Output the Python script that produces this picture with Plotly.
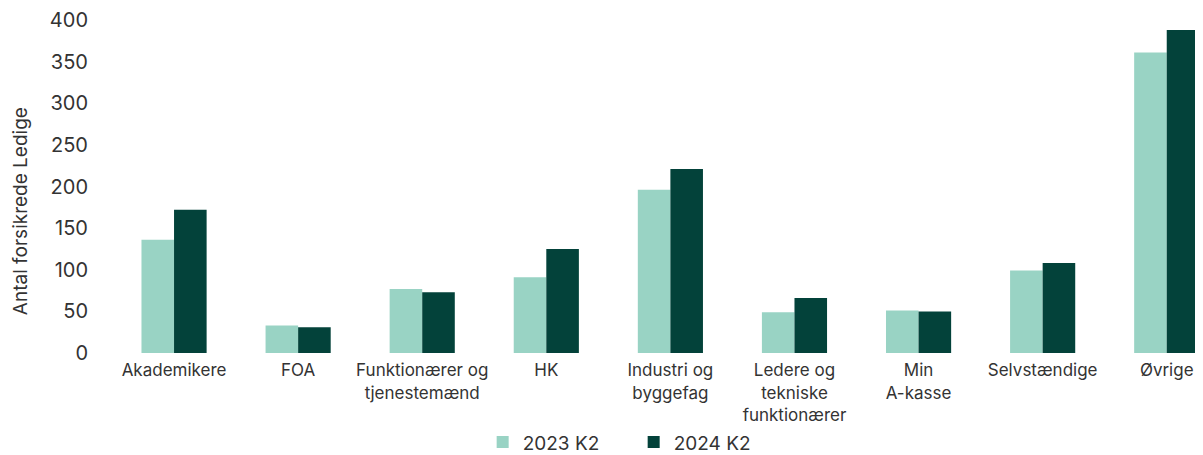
import plotly.graph_objects as go

categories = ["Akademikere", "FOA", "Funktionærer og<br>tjenestemænd", "HK",
              "Industri og<br>byggefag", "Ledere og<br>tekniske<br>funktionærer",
              "Min<br>A-kasse", "Selvstændige", "Øvrige"]
series_2023 = [136, 33, 77, 91, 196, 49, 51, 99, 361]
series_2024 = [172, 31, 73, 125, 221, 66, 50, 108, 388]
y_ticks = [0, 50, 100, 150, 200, 250, 300, 350, 400]

FONT = "Inter, Roboto, sans-serif"
TXT = "#333333"

fig = go.Figure()
fig.add_trace(go.Bar(name="2023 K2", x=categories, y=series_2023,
                     marker=dict(color="#99D3C4", line=dict(width=0))))
fig.add_trace(go.Bar(name="2024 K2", x=categories, y=series_2024,
                     marker=dict(color="#03423A", line=dict(width=0))))

fig.update_layout(
    width=1195, height=447,
    margin=dict(l=104, r=4, t=12, b=102, autoexpand=False),
    paper_bgcolor="white", plot_bgcolor="white",
    barmode="group", bargap=0.475, bargroupgap=0,
    font=dict(family=FONT, color=TXT, size=17),
    legend=dict(orientation="h", x=0.341, xanchor="left", y=-0.268, yanchor="middle",
                font=dict(size=19, color=TXT), itemwidth=30, entrywidth=106,
                traceorder="normal"),
    xaxis=dict(range=[-0.5, 8.26], showgrid=False, showline=False, zeroline=False,
               automargin=False, ticks="outside", ticklen=2, tickcolor="rgba(0,0,0,0)",
               tickfont=dict(size=17, color=TXT), tickangle=0),
    yaxis=dict(range=[0, 400], tickvals=y_ticks, showgrid=False, showline=False,
               automargin=False, zeroline=False, ticks="outside", ticklen=19,
               tickcolor="rgba(0,0,0,0)",
               tickfont=dict(size=20, color=TXT)),
    annotations=[dict(text="Antal forsikrede Ledige", textangle=-90,
                      xref="paper", yref="paper", x=-0.0846, y=0.426,
                      xanchor="center", yanchor="middle", showarrow=False,
                      font=dict(size=19, color=TXT))],
)

fig.write_html("out.html")
